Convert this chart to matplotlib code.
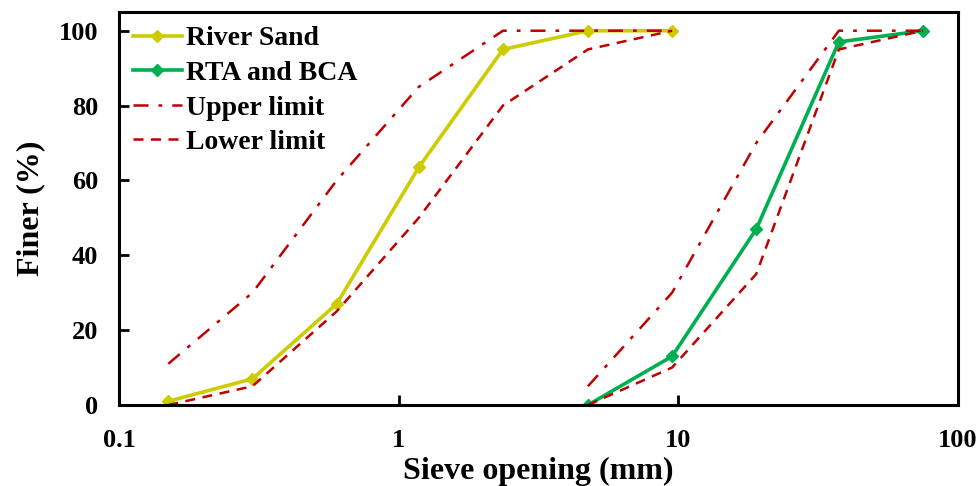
import matplotlib
matplotlib.use("Agg")
from matplotlib import pyplot as plt

# sieve sizes (mm)
fine_sizes = [0.15, 0.3, 0.6, 1.18, 2.36, 4.75, 9.5]
coarse_sizes = [4.75, 9.5, 19, 37.5, 75]

# percent finer
river_sand = [1, 7, 27, 63.5, 95, 100, 100]
fine_upper = [11, 30, 60, 85, 100, 100, 100]
fine_lower = [0, 5, 25, 50, 80, 95, 100]

rta_bca = [0, 13, 47, 97, 100]
coarse_upper = [5, 30, 70, 100, 100]
coarse_lower = [0, 10, 35, 95, 100]

plt.rcParams['font.family'] = ['Liberation Serif', 'DejaVu Serif']
plt.rcParams['font.weight'] = 'bold'

fig = plt.figure(figsize=(9.79, 4.86), dpi=100)
ax = fig.add_axes([0.1216, 0.1667, 0.8569, 0.8086])

yellow = '#CCCC00'
green = '#00B050'
red = '#C00000'

ax.plot(fine_sizes, river_sand, color=yellow, lw=2.6, marker='D', ms=6.5, label='River Sand')
ax.plot(coarse_sizes, rta_bca, color=green, lw=2.6, marker='D', ms=6.5, label='RTA and BCA')
ax.plot(fine_sizes, fine_upper, color=red, lw=1.8, ls=(0, (6, 4, 1.5, 4)), label='Upper limit')
ax.plot(fine_sizes, fine_lower, color=red, lw=1.8, ls=(0, (4, 3)), label='Lower limit')
ax.plot(coarse_sizes, coarse_upper, color=red, lw=1.8, ls=(0, (6, 4, 1.5, 4)))
ax.plot(coarse_sizes, coarse_lower, color=red, lw=1.8, ls=(0, (4, 3)))

ax.set_xscale('log')
ax.set_xlim(0.1, 100)
ax.set_ylim(0, 105)
ax.set_yticks([0, 20, 40, 60, 80, 100])
ax.set_xticks([0.1, 1, 10, 100])
ax.set_xticklabels(['0.1', '1', '10', '100'])
ax.minorticks_off()
ax.tick_params(direction='in', length=7, width=2, labelsize=19)
ax.tick_params(axis='y', pad=15)
ax.tick_params(axis='x', pad=17)

for s in ax.spines.values():
    s.set_linewidth(2.2)

ax.set_xlabel('Sieve opening (mm)', fontsize=23, fontweight='bold', labelpad=4)
ax.set_ylabel('Finer (%)', fontsize=23, fontweight='bold', labelpad=10)

ax.legend(loc='upper left', frameon=False, fontsize=20, handlelength=1.75,
          handletextpad=0.15, labelspacing=0.33, borderaxespad=0.2,
          borderpad=0.3)

fig.savefig('out.png', dpi=100)
